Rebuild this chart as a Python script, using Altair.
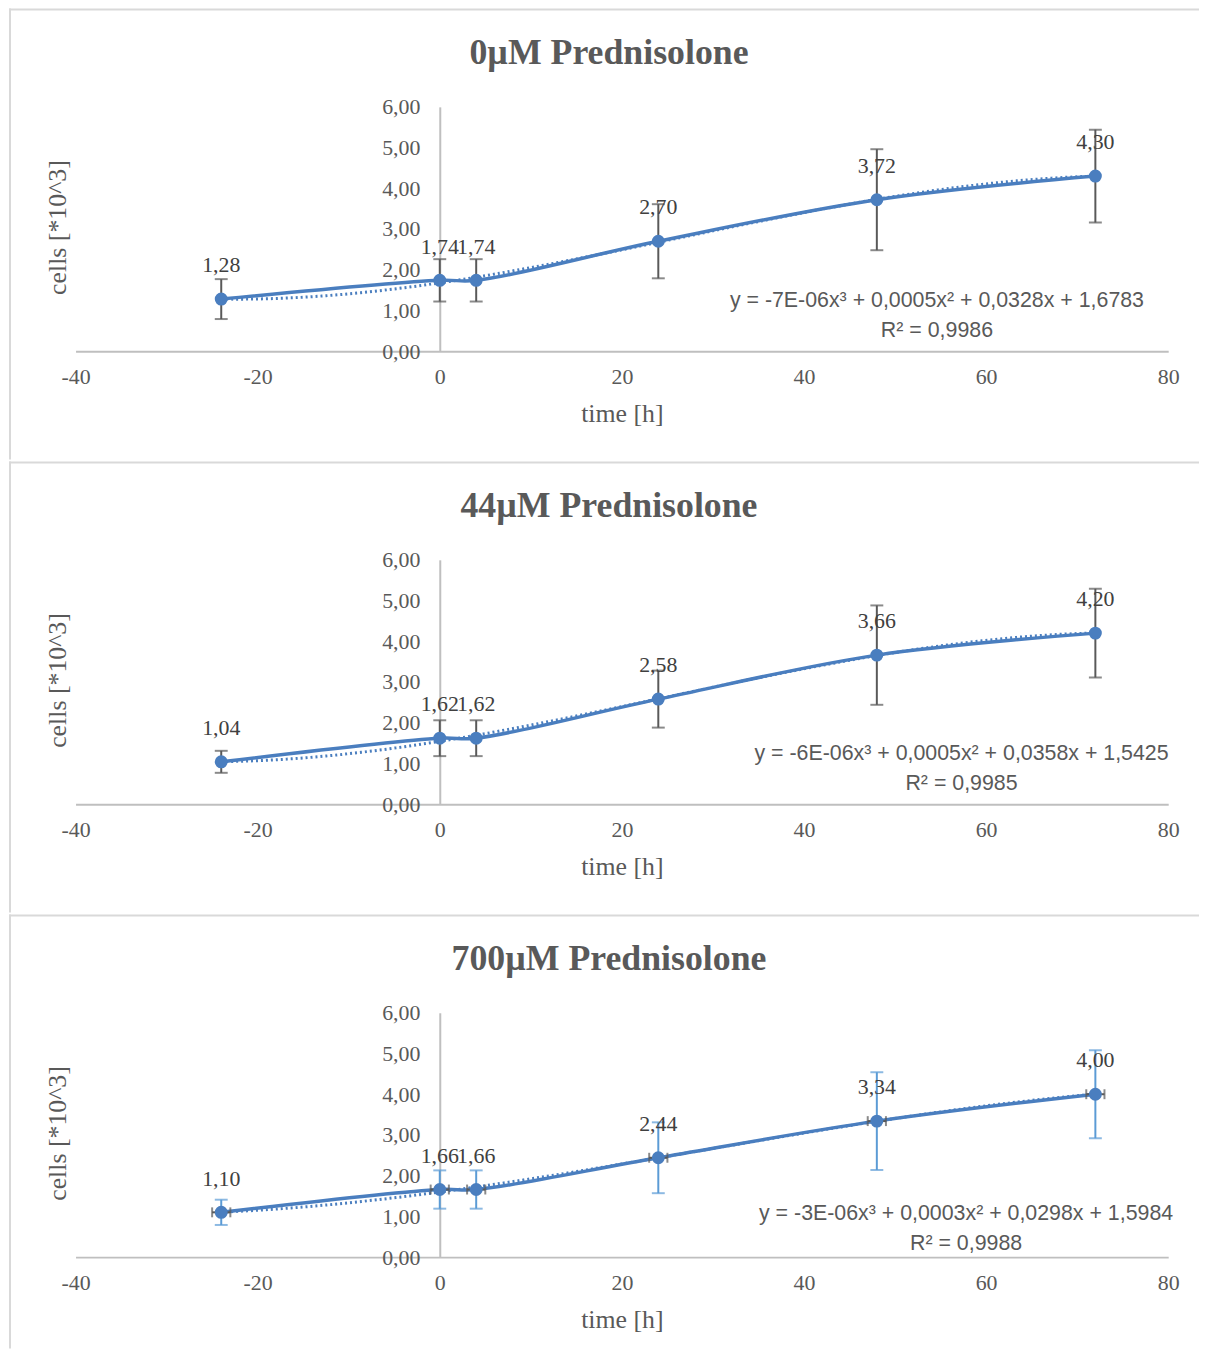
import altair as alt
import pandas as pd

# ---------------- data ----------------
time_h = [-24, 0, 4, 24, 48, 72]

titles = ["0µM Prednisolone", "44µM Prednisolone", "700µM Prednisolone"]

cells_0 = [1.28, 1.74, 1.74, 2.70, 3.72, 4.30]
cells_44 = [1.04, 1.62, 1.62, 2.58, 3.66, 4.20]
cells_700 = [1.10, 1.66, 1.66, 2.44, 3.34, 4.00]

yerr_0 = [0.49, 0.52, 0.52, 0.91, 1.24, 1.14]
yerr_44 = [0.27, 0.44, 0.44, 0.70, 1.22, 1.09]
yerr_700 = [0.31, 0.47, 0.47, 0.87, 1.20, 1.08]

xerr_700 = [1.0, 1.0, 1.0, 1.0, 1.0, 1.0]

equations = [
    "y = -7E-06x³ + 0,0005x² + 0,0328x + 1,6783",
    "y = -6E-06x³ + 0,0005x² + 0,0358x + 1,5425",
    "y = -3E-06x³ + 0,0003x² + 0,0298x + 1,5984",
]
r_squared = ["R² = 0,9986", "R² = 0,9985", "R² = 0,9988"]

x_ticks = [-40, -20, 0, 20, 40, 60, 80]
y_ticks = [0, 1, 2, 3, 4, 5, 6]

# ---------------- layout / style ----------------
W, H = 1100, 246
X_DOMAIN = [-40, 80]
Y_DOMAIN = [0, 6]
eq_pos = [(54.6, 1.22), (57.3, 1.22), (57.8, 1.05)]
panel_bottom = [H + 109, H + 109, H + 92]

BLUE = "#4A7EBF"
LIGHT_BLUE = "#5B9BD5"
DARK = "#595959"
LABEL = "#404040"
AXIS = "#BFBFBF"
BORDER = "#D9D9D9"
SERIF = "Liberation Serif"
SANS = "Liberation Sans"

y_axis_offset = -W * (0 - X_DOMAIN[0]) / (X_DOMAIN[1] - X_DOMAIN[0])

xs = alt.Scale(domain=X_DOMAIN, nice=False, zero=False)
ys = alt.Scale(domain=Y_DOMAIN, nice=False)

x_axis = alt.Axis(
    values=x_ticks, title="time [h]", grid=False, ticks=False,
    domainColor=AXIS, domainWidth=2, labelFont=SERIF,
    labelFontSize=22, labelColor=DARK, labelPadding=16,
    labelExpr="datum.value < 0 ? '-' + abs(datum.value) : '' + datum.value",
    titleFont=SERIF, titleFontSize=26, titleFontWeight="normal",
    titleColor=DARK, titlePadding=13, labelFlush=False,
)
y_axis = alt.Axis(
    values=y_ticks, title="cells [*10^3]", grid=False, ticks=False,
    offset=y_axis_offset, domainColor=AXIS, domainWidth=2,
    labelFont=SERIF, labelFontSize=22, labelColor=DARK,
    labelPadding=20, labelFlush=False,
    labelExpr="replace(format(datum.value, '.2f'), '.', ',')",
    titleFont=SERIF, titleFontSize=26, titleFontWeight="normal",
    titleColor=DARK, titleAngle=270, titleBaseline="middle",
    titleAlign="center",
    titleX=-18 + y_axis_offset,
    titleY=H / 2 - 2,
)


def X(field):
    return alt.X(field, scale=xs, axis=x_axis)


def Y(field):
    return alt.Y(field, scale=ys, axis=y_axis)


one = pd.DataFrame({"k": [0]})


def panel(i, values, yerr, err_color, xerr=None):
    df = pd.DataFrame({"t": time_h, "c": values, "e": yerr})
    if xerr is not None:
        df["xe"] = xerr
    base = alt.Chart(df).transform_calculate(
        lo="datum.c - datum.e",
        hi="datum.c + datum.e",
        lbl="replace(format(datum.c, '.2f'), '.', ',')",
    )

    bg = alt.Chart(one).mark_rect(fill="white", opacity=0).encode(
        x=alt.value(-67), x2=alt.value(W + 31),
        y=alt.value(-99), y2=alt.value(panel_bottom[i]),
    )
    top_border = alt.Chart(one).mark_rule(color=BORDER, strokeWidth=2).encode(
        x=alt.value(-67), x2=alt.value(W + 31), y=alt.value(-98)
    )
    left_border = alt.Chart(one).mark_rule(color=BORDER, strokeWidth=2).encode(
        x=alt.value(-66), y=alt.value(-99), y2=alt.value(panel_bottom[i])
    )
    title = alt.Chart(one).mark_text(
        font=SERIF, fontSize=36, fontWeight="bold", color=DARK,
        align="center", baseline="middle",
    ).encode(
        x=alt.value(W / 2 - 13), y=alt.value(-54), text=alt.value(titles[i])
    )

    line = base.mark_line(
        interpolate="catmull-rom", strokeWidth=3.5, color=BLUE
    ).encode(x=X("t:Q"), y=Y("c:Q"))

    trend = base.transform_regression(
        "t", "c", method="poly", order=3
    ).mark_line(strokeDash=[2, 3], strokeWidth=3, color=BLUE).encode(
        x=X("t:Q"), y=Y("c:Q")
    )

    ebar = base.mark_rule(color=err_color, strokeWidth=2).encode(
        x=X("t:Q"), y=Y("lo:Q"), y2="hi:Q"
    )
    cap_lo = base.mark_tick(
        orient="horizontal", size=13, thickness=2, color=err_color
    ).encode(x=X("t:Q"), y=Y("lo:Q"))
    cap_hi = base.mark_tick(
        orient="horizontal", size=13, thickness=2, color=err_color
    ).encode(x=X("t:Q"), y=Y("hi:Q"))

    layers = [bg, top_border, left_border, title, trend, line, ebar, cap_lo, cap_hi]

    if xerr is not None:
        xb = base.transform_calculate(
            xlo="datum.t - datum.xe", xhi="datum.t + datum.xe"
        )
        xbar = xb.mark_rule(color=DARK, strokeWidth=2).encode(
            x=X("xlo:Q"), x2="xhi:Q", y=Y("c:Q")
        )
        xcap_lo = xb.mark_tick(
            orient="vertical", size=10, thickness=2, color=DARK
        ).encode(x=X("xlo:Q"), y=Y("c:Q"))
        xcap_hi = xb.mark_tick(
            orient="vertical", size=10, thickness=2, color=DARK
        ).encode(x=X("xhi:Q"), y=Y("c:Q"))
        layers += [xbar, xcap_lo, xcap_hi]

    pts = base.mark_circle(size=170, opacity=1, color=BLUE).encode(
        x=X("t:Q"), y=Y("c:Q")
    )
    labels = base.mark_text(
        dy=-34, font=SERIF, fontSize=22, color=LABEL, baseline="middle"
    ).encode(x=X("t:Q"), y=Y("c:Q"), text="lbl:N")

    eq_df = pd.DataFrame({"t": [eq_pos[i][0]], "c": [eq_pos[i][1]]})
    eq = alt.Chart(eq_df).mark_text(
        font=SANS, fontSize=21.5, color=DARK, lineBreak="\n", lineHeight=30,
        align="center", baseline="middle",
    ).encode(
        x=X("t:Q"), y=Y("c:Q"),
        text=alt.value(equations[i] + "\n" + r_squared[i]),
    )
    layers += [pts, labels, eq]

    return alt.layer(*layers).properties(width=W, height=H)


chart = alt.vconcat(
    panel(0, cells_0, yerr_0, DARK),
    panel(1, cells_44, yerr_44, DARK),
    panel(2, cells_700, yerr_700, LIGHT_BLUE, xerr_700),
    spacing=0,
).properties(
    padding={"top": -5, "left": 0, "right": 0, "bottom": 0}
).configure_view(stroke=None)

chart.save("out.html", embed_options={"renderer": "svg", "actions": False})
